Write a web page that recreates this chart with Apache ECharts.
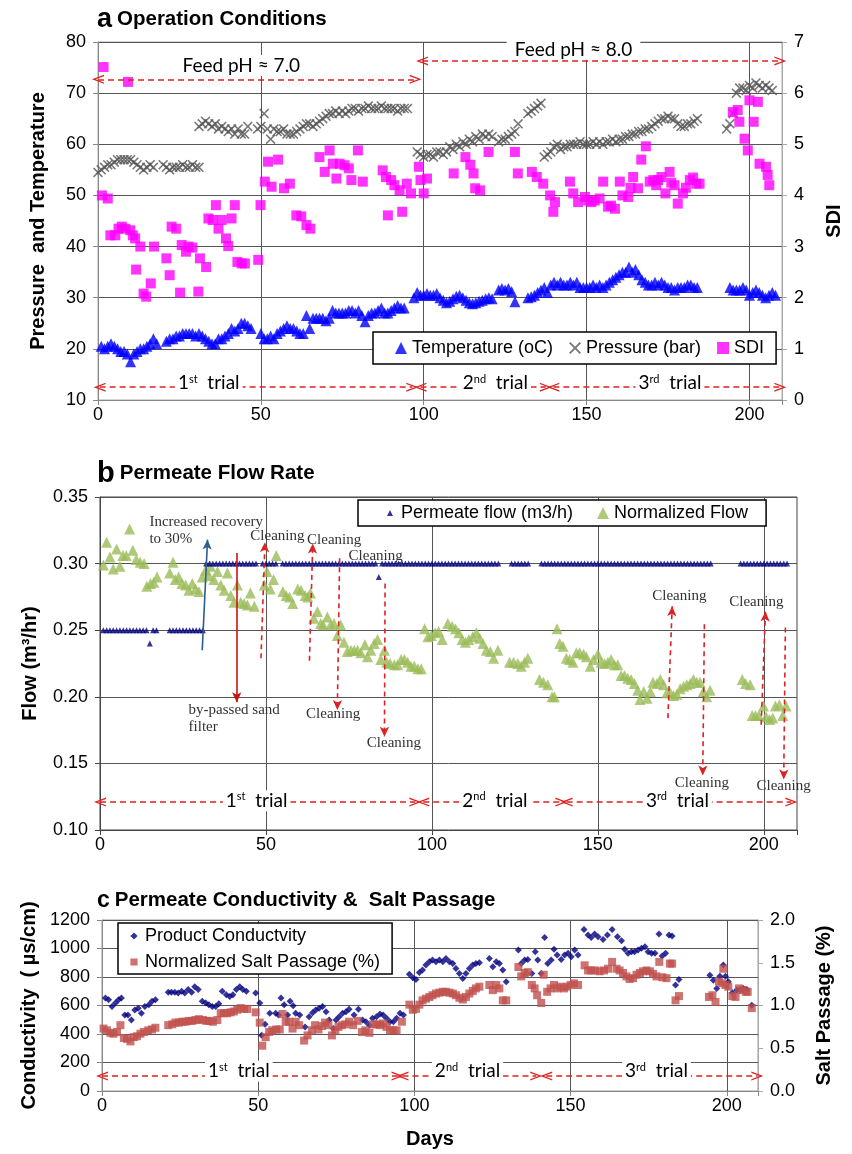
<!DOCTYPE html>
<html>
<head>
<meta charset="utf-8">
<script src="https://cdn.jsdelivr.net/npm/echarts@6/dist/echarts.min.js"></script>
<style>
  html, body { margin: 0; padding: 0; background: #fff; }
  #chart { width: 852px; height: 1154px; }
</style>
</head>
<body>
<div id="chart"></div>
<script>
// ---- data: [day, value] ----
var dayTicks = [0, 50, 100, 150, 200];

var tempData = [[1,20.5],[2,20],[3,20.5],[4,21],[5,20.5],[6,20],[7,19.5],[8,19.5],[9,19],[10,17.5],[11,19],[12,19.5],[13,20],[14,20],[15,20.5],[16,21],[17,22],[18,21],
  [21,21.5],[22,22],[23,22],[24,22.5],[25,22.5],[26,23],[27,23],[28,23],[29,23],[30,22.5],[31,23],[32,22.5],[33,22],[34,21.5],[35,21],[36,21],[37,22],[38,22],[39,22.5],[40,23],[41,24],[42,23.5],[43,24],[44,25],[45,25],[46,24.5],[47,24],
  [50,23],[51,22],[52,22],[53,22.5],[54,22],[55,23],[56,23.5],[57,24],[58,24.5],[59,24],[60,24],[61,23.5],[62,23],[63,23],[64,26.5],[65,24],[66,26],[67,26],[68,26],[69,26],[70,25.5],[71,26],[72,27.5],[73,27],[74,27],[75,27],[76,27],[77,27.5],[78,27.5],[79,27],[80,27.5],[81,26.5],[82,25.3],[83,26.5],[84,27],[85,27],[86,27.5],[87,28],[88,27],[89,27],[90,27.5],[91,28],[92,28.5],[93,28],[94,28],[97,30],[98,31],[99,30.5],
  [100,30.5],[101,30.8],[102,30.5],[103,30.5],[104,30.8],[105,30],[106,29.5],[107,29],[108,29.3],[109,29.8],[110,30.3],[111,30.5],[112,30],[113,29.5],[114,29],[115,28.8],[116,29],[117,29.3],[118,29.5],[119,29.8],[120,30],[121,29.8],
  [123,31.5],[124,31.8],[125,31.5],[126,31.8],[127,31.2],[128,29.2],
  [132,30],[133,30.2],[134,30.5],[135,31],[136,31.5],[137,32],[138,31],[139,32.5],[140,33],[141,32.5],[142,33],[143,32.5],[144,32.5],[145,33],[146,32.5],[147,33],[148,32],[149,32],[150,32],[151,32],[152,32.5],[153,32],[154,32.5],[155,32],[156,32.5],[157,33],[158,33.5],[159,34],[160,34.5],[161,35],[162,35],[163,36],[164,35],[165,35.5],[166,34.5],[167,33.5],[168,33],[169,32.5],[170,32.5],[171,33],[172,32.5],[173,33],[174,32.5],[175,32],[176,32],[177,31.5],[178,32],[179,32],[180,32],[181,32.5],[182,32.5],[183,32],[184,32],
  [194,32],[195,31.5],[196,31.5],[197,31.5],[198,32],[199,31.5],[200,30.5],[201,31],[202,31.5],[203,31],[204,30.5],[205,30],[206,30.5],[207,31],[208,30.5]];

var pressureData = [[0,54.5],[1,55],[2,55.5],[3,56],[4,56],[5,56.5],[6,57],[7,57],[8,57],[9,57],[10,57],[11,56.5],[12,56],[13,55.5],[14,55],[15,55.5],[16,56],[17,55.5],
  [20,56],[21,55.5],[22,55],[23,55.5],[24,55.5],[25,55.5],[26,56],[27,55.5],[28,55.5],[29,56],[30,55.5],[31,55.5],
  [31,63.5],[32,64],[33,64.5],[34,64],[35,63.5],[36,64],[37,63],[38,63.5],[39,63],[40,62.5],[41,63],[42,62],[43,63],[44,62],[45,62],[46,63.5],
  [49,63],[50,63.5],[51,66],[52,63],[53,61],[54,63],[55,62.5],[56,62.5],[57,63],[58,62],[59,62],[60,62],[61,62.5],[62,63],[63,63.5],[64,64],[65,64],[66,63.5],[67,64],[68,64.5],[69,65],[70,65.5],[71,66],[72,66],[73,66.5],[74,66],[75,66.5],[76,66],[77,66.5],[78,67],[79,67],[80,66.5],[81,67],[82,67],[83,67.5],[84,67],[85,67],[86,67],[87,67.5],[88,67],[89,67],[90,67],[91,67],[92,66.5],[93,67],[94,67],[95,67],
  [98,58.5],[99,58],[100,57.5],[101,58],[102,58],[103,57.5],[104,58.5],[105,58.5],[106,58],[107,58.5],[108,59.5],[109,59],[110,60],[111,59.5],[112,60.5],[113,60],[114,61],[115,60.5],[116,61.5],[117,61],[118,62],[119,61.5],[120,62],[121,61.5],
  [123,60.5],[124,61],[125,61],[126,61.5],[127,62],[128,62.5],[129,64],
  [132,66],[133,66.5],[134,67],[135,67.5],[136,68],
  [137,57.5],[138,58],[139,58.5],[140,59.5],[141,60],[142,59],[143,59.5],[144,59.5],[145,60],[146,60],[147,60],[148,60.5],[149,60],[150,60],[151,60],[152,60.5],[153,60],[154,60.5],[155,60],[156,60.5],[157,60.5],[158,61],[159,60.5],[160,61],[161,61],[162,61.5],[163,61.5],[164,62],[165,62],[166,62.5],[167,62.5],[168,63],[169,63],[170,63.5],[171,64],[172,64.5],[173,65],[174,65],[175,65.5],[176,65],[177,65],[178,64],[179,63.5],[180,63.5],[181,64],[182,64],[183,64.5],[184,65],
  [193,63],[194,64],[195,66],[196,70],[197,71],[198,71],[199,70.5],[200,71.5],[201,71],[202,72],[203,71.5],[204,71],[205,71.5],[206,71],[207,70.5]];

var sdiData = [[1.7,6.51],[9.2,6.22],[1.2,4.0],[3,3.94],[3.8,3.22],[5.3,3.22],[6.3,3.35],[7.3,3.39],[8.4,3.35],[9.9,3.32],[10.7,3.22],[11.4,3.16],[13,3.0],[11.7,2.55],[14,2.08],[14.8,2.02],[16.2,2.28],[17.2,3.0],[21,2.77],[22,2.44],[22.6,3.39],[24,3.35],[25.2,2.1],[25.7,3.03],[27,2.9],[27.8,3.0],[29,2.98],[30.8,2.12],[31.3,2.77],[33.2,2.6],[33.9,3.55],[35.2,3.52],[36.2,3.81],[37,3.35],[38,3.52],[39.3,3.16],[40,3.01],[41,3.55],[42,3.81],[42.8,2.7],[44.1,2.67],[45.1,2.67],[49.2,2.74],[49.9,3.81],[51.2,4.27],[52.2,4.66],[53.3,4.17],[55.3,4.7],[57.1,4.14],[58.9,4.23],[60.9,3.61],[62.4,3.59],[64,3.42],[65.2,3.35],[68,4.75],[69.6,4.46],[71.1,4.88],[73.2,4.33],[72.1,4.62],[74.2,4.62],[75.7,4.59],[77,4.53],[77.8,4.3],[79.8,4.88],[81.3,4.27],[87.4,4.49],[88.4,4.36],[89,3.61],[90,4.3],[91,4.2],[92.6,4.1],[93.4,3.68],[94.8,4.23],[96.1,4.04],
  [98.5,4.56],[99,4.3],[100,4.04],[101,4.33],[109.2,4.43],[112.8,4.75],[114.3,4.6],[115.3,4.43],[115.8,4.14],[117.3,4.1],[119.9,4.85],[128,4.85],[128.9,4.43],[133.2,4.46],[134.7,4.36],[136.7,4.23],[138.8,4.0],[140.3,3.87],[139.8,3.68],[144.9,4.27],[145.9,4.04],[147.4,3.87],[149.5,3.97],[150.5,3.9],[151.5,3.87],[152.5,3.9],[154,3.94],[155.1,4.27],[156.6,3.78],[157.5,3.8],[158.7,3.74],[160.2,4.27],[161,4.0],[162.8,3.97],[163.5,4.15],[164.3,4.36],[165.8,4.14],[166.8,4.7],[168.2,4.96],[169.4,4.27],[170.5,4.3],[171.4,4.2],[172,4.3],[173,4.36],[174.2,4.04],[175.5,4.46],[176,4.25],[177,4.2],[178,3.84],[179.6,4.04],[180.5,4.15],[181.7,4.3],[182.7,4.35],[183.7,4.23],[184.7,4.23],
  [194.9,5.63],[196.4,5.67],[196.9,5.44],[198.5,5.11],[199.5,4.88],[200,5.86],[201.3,5.44],[202.6,5.83],[203.1,4.62],[205.1,4.56],[205.6,4.4],[206.1,4.2]];

var permFlowData = [[1,0.25],[2,0.25],[3,0.25],[4,0.25],[5,0.25],[6,0.25],[7,0.25],[8,0.25],[9,0.25],[10,0.25],[11,0.25],[12,0.25],[13,0.25],[14,0.25],[15,0.24],[16,0.25],[17,0.25],
  [21,0.25],[22,0.25],[23,0.25],[24,0.25],[25,0.25],[26,0.25],[27,0.25],[28,0.25],[29,0.25],[30,0.25],[31,0.25],
  [32,0.30],[33,0.30],[34,0.30],[35,0.30],[36,0.30],[37,0.30],[38,0.30],[39,0.30],[40,0.30],[41,0.30],[42,0.30],[43,0.30],[44,0.30],[45,0.30],[46,0.30],[47,0.30],
  [49,0.30],[50,0.30],[51,0.30],[52,0.30],[53,0.30],
  [55,0.30],[56,0.30],[57,0.30],[58,0.30],[59,0.30],[60,0.30],[61,0.30],[62,0.30],[63,0.30],[64,0.30],[65,0.30],[66,0.30],[67,0.30],[68,0.30],[69,0.30],[70,0.30],[71,0.30],[72,0.30],[73,0.30],[74,0.30],[75,0.30],[76,0.30],[77,0.30],[78,0.30],[79,0.30],[80,0.30],[81,0.30],[82,0.30],[83,0.30],[84,0.29],[85,0.30],[86,0.30],[87,0.30],[88,0.30],[89,0.30],[90,0.30],[91,0.30],[92,0.30],[93,0.30],[94,0.30],[95,0.30],[96,0.30],[97,0.30],
  [98,0.30],[99,0.30],[100,0.30],[101,0.30],[102,0.30],[103,0.30],[104,0.30],[105,0.30],[106,0.30],[107,0.30],[108,0.30],[109,0.30],[110,0.30],[111,0.30],[112,0.30],[113,0.30],[114,0.30],[115,0.30],[116,0.30],[117,0.30],[118,0.30],[119,0.30],[120,0.30],
  [124,0.30],[125,0.30],[126,0.30],[127,0.30],[128,0.30],[129,0.30],
  [133,0.30],[134,0.30],[135,0.30],[136,0.30],[137,0.30],[138,0.30],[139,0.30],[140,0.30],[141,0.30],[142,0.30],[143,0.30],[144,0.30],[145,0.30],[146,0.30],[147,0.30],[148,0.30],[149,0.30],[150,0.30],[151,0.30],[152,0.30],
  [153,0.30],[154,0.30],[155,0.30],[156,0.30],[157,0.30],[158,0.30],[159,0.30],[160,0.30],[161,0.30],[162,0.30],[163,0.30],[164,0.30],[165,0.30],[166,0.30],[167,0.30],[168,0.30],[169,0.30],[170,0.30],[171,0.30],[172,0.30],[173,0.30],[174,0.30],[175,0.30],[176,0.30],[177,0.30],[178,0.30],[179,0.30],[180,0.30],[181,0.30],[182,0.30],[183,0.30],[184,0.30],
  [193,0.30],[194,0.30],[195,0.30],[196,0.30],[197,0.30],[198,0.30],[199,0.30],[200,0.30],[201,0.30],[202,0.30],[203,0.30],[204,0.30],[205,0.30],[206,0.30],[207,0.30]];

var normFlowData = [[1,0.299],[2,0.316],[3,0.305],[4,0.296],[5,0.311],[6,0.298],[6.9,0.306],[7.9,0.306],[8.9,0.326],[9.9,0.31],[10.9,0.303],[12.1,0.301],[13.3,0.3],[14.1,0.283],[15.2,0.285],[16.2,0.286],[17.2,0.29],
  [21,0.293],[22,0.301],[22.7,0.288],[23.7,0.29],[24.7,0.285],[25.8,0.284],[26.8,0.28],[27.8,0.285],[28.8,0.281],[29.8,0.279],[30.8,0.29],[31.8,0.295],[32.8,0.291],[33.3,0.298],[34.3,0.288],[35.4,0.294],[36.4,0.284],[37.4,0.28],[38.4,0.293],[39.4,0.276],[40.4,0.271],[41.4,0.284],[42.4,0.271],[43.4,0.27],[44.4,0.269],[45.3,0.278],[46.5,0.268],
  [49.5,0.284],[50.3,0.294],[51.3,0.281],[52.3,0.288],[53.1,0.306],[55.1,0.279],[56.1,0.276],[57.1,0.275],[58.1,0.27],[59.6,0.281],[60.6,0.28],[61.8,0.276],[62.6,0.275],[63.4,0.278],[64.4,0.259],[65.5,0.264],[66.5,0.255],[67.2,0.254],[68.5,0.26],[69.5,0.254],[70.5,0.255],[71.5,0.246],[72.5,0.254],[73.5,0.241],[74.5,0.234],[75.6,0.235],[76.6,0.235],[77.6,0.235],[78.6,0.233],[79.8,0.239],[80.6,0.23],[81.6,0.235],[82.6,0.24],[83.6,0.243],[84.6,0.228],[85.7,0.235],[86.4,0.226],[87.4,0.225],[88.7,0.224],[89.7,0.224],[90.7,0.228],[91.7,0.228],[92.7,0.226],[93.7,0.223],[94.7,0.223],[95.8,0.221],[96.8,0.221],
  [97.8,0.251],[98.8,0.245],[99.8,0.246],[101,0.248],[102,0.249],[103.1,0.243],[104.8,0.255],[106.1,0.253],[107.1,0.251],[108.1,0.248],[109.1,0.243],[110.1,0.241],[111.1,0.243],[112.3,0.245],[113.4,0.248],[114.4,0.244],[115.4,0.24],[116.4,0.235],[117.6,0.234],[118.6,0.229],[119.9,0.235],
  [123.4,0.226],[124.6,0.226],[125.9,0.225],[126.9,0.223],[127.9,0.226],[128.9,0.229],[132.4,0.213],[133.6,0.211],[134.9,0.209],[136.2,0.2],[136.9,0.2],
  [137.7,0.251],[138.5,0.24],[139.5,0.238],[140.5,0.229],[141.5,0.228],[142.5,0.226],[143.5,0.233],[144.5,0.233],[145.7,0.232],[146.5,0.23],[147.7,0.223],[148.7,0.228],[150,0.232],[151,0.226],[152,0.225],[153,0.226],[154,0.228],[155,0.224],[156,0.224],[157,0.216],[158,0.216],[159,0.214],[160,0.213],[161,0.21],[162,0.205],[162.7,0.198],[163.8,0.204],[164.8,0.199],[165.8,0.204],[166.6,0.211],[167.8,0.21],[168.8,0.213],[169.8,0.209],[170.8,0.203],[171.8,0.203],[172.8,0.201],[173.8,0.202],[174.8,0.206],[175.8,0.208],[176.8,0.209],[177.8,0.21],[178.8,0.213],[179.8,0.211],[180.8,0.211],[181.8,0.204],[182.8,0.2],[183.8,0.205],
  [193.5,0.213],[194.5,0.21],[195.9,0.209],[196.5,0.186],[197.5,0.186],[198.5,0.186],[199.9,0.193],[200.7,0.185],[201.7,0.183],[202.7,0.184],[203.5,0.193],[204.7,0.194],[205.7,0.186],[206.7,0.193]];

var condData = [[1.1,652],[2.1,640],[3.2,593],[4.3,617],[5.3,640],[6.2,652],[7.3,533],[8.3,533],[9.4,498],[10.5,569],[11.6,581],[12.6,545],[13.7,593],[15,605],[16,629],[17.1,640],
  [21.2,693],[22.2,693],[23.3,693],[24.4,688],[25.5,700],[26.5,688],[27.6,712],[28.7,693],[29.7,731],[30.8,712],[32.1,629],[33.2,617],[34.2,605],[35.3,593],[36.4,593],[37.4,612],[38.5,700],[39.8,676],[40.9,664],[41.9,676],[43,712],[44.1,731],[45.1,712],[46.2,700],
  [49.2,688],[50.5,617],[51.1,391],[52.2,469],[53.7,545],[55.6,545],[56.5,533],[57.3,652],[58.3,605],[59.4,533],[60.2,629],[61.2,598],[62,545],[63.3,533],[65,450],[66.3,521],[67.4,550],[68.4,569],[69.5,581],[70.6,593],[71.7,557],[72.7,498],[74,438],[74.9,498],[75.9,521],[77,545],[78.1,557],[79.1,574],[80.7,533],[82.1,574],[83.4,498],[84.5,486],[85.6,462],[86.6,510],[87.9,521],[89,540],[90,533],[91.1,510],[92.2,486],[93.3,486],[94.3,510],[95.4,545],[96.5,533],
  [98.4,819],[99.5,795],[100.5,783],[101.6,831],[102.6,849],[103.7,884],[104.8,907],[105.8,919],[106.9,907],[108,919],[109.1,907],[110.1,930],[111.2,907],[112.3,895],[113.3,860],[114.4,825],[115.5,790],[116.5,825],[117.6,860],[118.7,884],[119.7,895],[120.8,900],
  [124,930],[125.1,872],[126.2,907],[127.2,895],[128.3,849],[129.4,767],
  [133.3,989],[134.2,895],[135.3,919],[136.3,923],[137.6,825],[138.7,977],[139.5,919],[140.6,825],[141.7,1078],[142.7,895],[143.8,919],[144.7,994],[145.7,954],[147,923],[148.1,954],[149.2,966],[150.2,942],[151.3,989],[152.4,954],
  [154.3,1134],[155.6,1095],[156.6,1078],[157.7,1102],[158.8,1083],[160.4,1064],[161.8,1095],[163.3,1134],[165,1083],[166.3,1055],[167.3,994],[168.4,966],[169.5,977],[170.5,977],[171.6,989],[172.7,1001],[173.8,1013],[174.8,977],[175.9,966],[177,966],[178.3,1102],[179.3,947],[180.4,966],[181.5,1095],[182.5,1088],[183.6,743],[184.7,783],
  [194.6,813],[195.7,778],[196.8,720],[197.8,806],[198.9,884],[199.6,806],[200.5,767],[201.8,689],[203.2,708],[204.2,708],[205.3,720],[206.4,713],[208,602]];

var saltData = [[0.5,0.73],[1.6,0.71],[2.7,0.68],[3.7,0.67],[4.8,0.69],[5.9,0.77],[7,0.62],[8,0.61],[9.1,0.58],[10.2,0.63],[11.2,0.64],[12.3,0.67],[13.4,0.69],[14.8,0.71],[16,0.72],[17.1,0.74],
  [21.2,0.77],[22.5,0.78],[23.5,0.8],[24.6,0.8],[25.7,0.81],[26.7,0.81],[27.8,0.82],[28.9,0.82],[29.9,0.83],[31,0.84],[32.3,0.83],[33.4,0.82],[34.4,0.82],[35.5,0.81],[36.9,0.83],[38,0.91],[39,0.91],[40.1,0.91],[41.2,0.92],[42.2,0.93],[43.3,0.95],[44.4,0.97],[45.5,0.96],[46.5,0.96],
  [49.2,0.92],[50.5,0.8],[51.3,0.53],[52.4,0.63],[53.5,0.69],[54.5,0.71],[55.8,0.72],[56.9,0.72],[57.8,0.9],[58.8,0.81],[59.9,0.81],[61,0.73],[62,0.81],[63.1,0.77],[64.7,0.59],[65.8,0.65],[67.2,0.71],[68.2,0.77],[69.3,0.72],[70.4,0.76],[71.4,0.8],[72.5,0.77],[73.6,0.65],[74.7,0.71],[75.7,0.75],[76.8,0.77],[77.9,0.78],[79.1,0.81],[80.4,0.77],[81.8,0.82],[83.2,0.69],[84.3,0.71],[85.6,0.68],[86.8,0.78],[87.9,0.78],[89,0.77],[90,0.79],[91.1,0.75],[92.2,0.71],[93.3,0.71],[94.3,0.71],[96,0.81],
  [98.4,1.01],[99.5,0.95],[100.5,0.96],[101.6,1.01],[102.6,1.06],[103.7,1.08],[104.8,1.1],[105.8,1.12],[106.9,1.14],[108,1.15],[109.1,1.16],[110.1,1.16],[111.2,1.15],[112.3,1.14],[113.3,1.12],[114.4,1.09],[115.5,1.07],[116.5,1.1],[117.6,1.14],[118.7,1.17],[119.7,1.2],[120.8,1.22],
  [124,1.24],[125.1,1.18],[126.2,1.24],[127.2,1.2],[128.3,1.06],[129.4,1.06],
  [133.3,1.45],[134.2,1.34],[135.3,1.38],[136.3,1.39],[137.6,1.24],[138.5,1.2],[139.3,1.12],[140.6,1.03],[141.4,1.36],[142.5,1.16],[143.6,1.2],[144.7,1.24],[145.7,1.2],[146.8,1.22],[147.9,1.2],[148.9,1.22],[150,1.24],[151.1,1.26],[152.4,1.24],
  [154.5,1.47],[155.6,1.41],[156.6,1.41],[157.9,1.41],[159.3,1.4],[160.7,1.41],[162,1.43],[163.3,1.51],[164.7,1.43],[165.7,1.41],[166.8,1.38],[167.9,1.34],[168.9,1.31],[170,1.32],[171.1,1.36],[172.2,1.38],[173.2,1.4],[174.3,1.41],[175.4,1.4],[176.4,1.37],[177.5,1.34],[178.4,1.51],[179.4,1.33],[180.7,1.32],[181.8,1.49],[182.5,1.49],[183.6,1.06],[184.7,1.11],
  [194.3,1.1],[195.4,1.12],[196.4,1.04],[197.5,1.28],[198.4,1.26],[198.9,1.43],[199.6,1.24],[200.5,1.22],[201.8,1.11],[202.8,1.1],[203.9,1.2],[205,1.18],[206.1,1.16],[206.7,1.16],[208,0.97]];

// ---- styling helpers ----
var SANS = 'Liberation Sans, Arial, sans-serif';
var SERIF = 'Liberation Serif, Times New Roman, serif';
var CAL = 'Lato, Open Sans, sans-serif';
var RED = '#dd2222';
var chev = 'path://M0,10 L5,0 L10,10 L8.5,10 L5,3 L1.5,10 Z';
var cross = 'path://M0,1.1 L1.1,0 L5,3.9 L8.9,0 L10,1.1 L6.1,5 L10,8.9 L8.9,10 L5,6.1 L1.1,10 L0,8.9 L3.9,5 Z';
var smallTri = 'path://M5,2.5 L7.5,7.5 L2.5,7.5 Z M0,0 L0.01,0 L0,0.01 Z M10,10 L9.99,10 L10,9.99 Z';
var smallDia = 'path://M5,2 L8,5 L5,8 L2,5 Z M0,0 L0.01,0 L0,0.01 Z M10,10 L9.99,10 L10,9.99 Z';
var smallSq = 'path://M2,2 L8,2 L8,8 L2,8 Z M0,0 L0.01,0 L0,0.01 Z M10,10 L9.99,10 L10,9.99 Z';

function dayLabel(v) { return dayTicks.indexOf(v) >= 0 ? String(v) : ''; }

function trialLine(x1, x2, y) {
  return [{ coord: [x1, y], symbol: chev }, { coord: [x2, y], symbol: chev }];
}
function arrow(x1, y1, x2, y2, color, dashed) {
  return [{ coord: [x1, y1], symbol: 'none',
            lineStyle: { color: color, type: dashed ? [5, 4] : 'solid', width: 1.6 } },
          { coord: [x2, y2], symbol: 'arrow', symbolSize: [7, 10] }];
}
var trialRich = {
  s: { fontSize: 11, fontFamily: CAL, verticalAlign: 'top', lineHeight: 12, color: '#000' }
};
function tag(x, y, text, opts) {
  var label = Object.assign({
    show: true, formatter: text, position: 'inside', color: '#000',
    fontFamily: CAL, fontSize: 19, backgroundColor: '#fff', padding: [1, 3],
    rich: trialRich
  }, opts || {});
  return { coord: [x, y], symbolSize: 1, itemStyle: { color: 'rgba(0,0,0,0)' }, label: label };
}
function note(x, y, text) {
  return tag(x, y, text, { position: 'right', distance: 0, fontFamily: SERIF, fontSize: 15,
                           color: '#333', backgroundColor: 'transparent', padding: 0, lineHeight: 17 });
}

function xAx(grid, lineColor) {
  return {
    type: 'value', gridIndex: grid, min: 0, max: 210, interval: 50,
    axisLine: { show: true, lineStyle: { color: lineColor } },
    axisTick: { show: true, length: 5, lineStyle: { color: lineColor } },
    axisLabel: { formatter: dayLabel, fontSize: 18, fontFamily: SANS, color: '#000', margin: 6 },
    splitLine: { show: true, showMinLine: false, showMaxLine: false, lineStyle: { color: '#555' } }
  };
}
function yAx(grid, pos, min, max, step, name, gap, digits, split, lineColor) {
  return {
    type: 'value', gridIndex: grid, position: pos, min: min, max: max, interval: step,
    name: name, nameLocation: 'middle', nameGap: gap, nameRotate: 90,
    nameTextStyle: { fontSize: 20, fontWeight: 'bold', fontFamily: SANS, color: '#000' },
    axisLine: { show: true, lineStyle: { color: lineColor } },
    axisTick: { show: true, length: 5, lineStyle: { color: lineColor } },
    axisLabel: { fontSize: 18, fontFamily: SANS, color: '#000', margin: 12,
                 formatter: function (v) { return v.toFixed(digits); } },
    splitLine: { show: split, showMinLine: false, lineStyle: { color: '#555' } }
  };
}
function legendBox(names, left, top, orient, padding, gap) {
  return {
    data: names, left: left, top: top, orient: orient, padding: padding, itemGap: gap,
    itemWidth: 12, itemHeight: 12, borderColor: '#000', borderWidth: 1.5, backgroundColor: '#fff',
    textStyle: { fontSize: 18, fontFamily: SANS, color: '#000' }, selectedMode: false
  };
}
function titleText(letter, text, top, letterSize) {
  return {
    text: '{l|' + letter + '} {t|' + text + '}', left: 92, top: top,
    textStyle: { rich: {
      l: { fontSize: letterSize, fontWeight: 'bold', fontFamily: SANS, color: '#000' },
      t: { fontSize: 20.5, fontWeight: 'bold', fontFamily: SANS, color: '#000' }
    } }
  };
}

var option = {
  animation: false,
  backgroundColor: '#fff',
  title: [
    titleText('a', 'Operation Conditions', 1, 27),
    titleText('b', 'Permeate Flow Rate', 454, 29),
    titleText('c', 'Permeate Conductivity &  Salt Passage', 884, 23)
  ],
  legend: [
    legendBox([{ name: 'Temperature (oC)' }, { name: 'Pressure (bar)' }, { name: 'SDI' }],
              373, 332, 'horizontal', [7, 12, 7, 22], 16),
    legendBox([{ name: 'Permeate flow (m3/h)', icon: smallTri }, { name: 'Normalized Flow' }],
              358, 500, 'horizontal', [4, 18, 4, 26], 24),
    legendBox([{ name: 'Product Conductvity', icon: smallDia }, { name: 'Normalized Salt Passage (%)', icon: smallSq }],
              118, 923, 'vertical', [4, 12, 3, 10], 8)
  ],
  grid: [
    { left: 98, top: 42, width: 686, height: 358, show: true, borderColor: '#aaa', borderWidth: 1 },
    { left: 100, top: 497, width: 697, height: 333, show: true, borderColor: '#444', borderWidth: 1 },
    { left: 102, top: 920, width: 656, height: 171, show: true, borderColor: '#999', borderWidth: 1 }
  ],
  xAxis: [
    xAx(0, '#888'),
    xAx(1, '#444'),
    Object.assign(xAx(2, '#888'), {
      name: 'Days', nameLocation: 'middle', nameGap: 38,
      nameTextStyle: { fontSize: 20, fontWeight: 'bold', fontFamily: SANS, color: '#000' }
    })
  ],
  yAxis: [
    yAx(0, 'left', 10, 80, 10, 'Pressure  and Temperature', 50, 0, true, '#888'),
    yAx(0, 'right', 0, 7, 1, 'SDI', 42, 0, false, '#aaa'),
    yAx(1, 'left', 0.1, 0.35, 0.05, 'Flow (m³/hr)', 60, 2, true, '#444'),
    yAx(2, 'left', 0, 1200, 200, 'Conductivity  ( µs/cm)', 62, 0, true, '#888'),
    yAx(2, 'right', 0, 2, 0.5, 'Salt Passage (%)', 56, 1, false, '#aaa')
  ],
  series: [
    {
      name: 'Temperature (oC)', type: 'scatter', xAxisIndex: 0, yAxisIndex: 0,
      data: tempData, symbol: 'triangle', symbolSize: 11, itemStyle: { color: '#0000ff' },
      markLine: {
        silent: true, symbolSize: [9, 12], label: { show: false },
        lineStyle: { color: RED, type: [6, 4], width: 1.6 },
        data: [
          trialLine(0.5, 96.5, 12.5), trialLine(99, 137.5, 12.5), trialLine(139.8, 209.5, 12.5),
          trialLine(0, 97.5, 72.7), trialLine(99.5, 209.5, 76.3)
        ]
      },
      markPoint: {
        silent: true,
        data: [
          tag(34, 13.2, '1{s|st}  trial'), tag(122, 13.2, '2{s|nd}  trial'), tag(175.6, 13.2, '3{s|rd}  trial'),
          tag(44, 75.3, 'Feed pH ≈ 7.0'), tag(146, 78.3, 'Feed pH ≈ 8.0', { padding: [0, 8] })
        ]
      }
    },
    {
      name: 'Pressure (bar)', type: 'scatter', xAxisIndex: 0, yAxisIndex: 0,
      data: pressureData, symbol: cross, symbolSize: 10, itemStyle: { color: '#555' }
    },
    {
      name: 'SDI', type: 'scatter', xAxisIndex: 0, yAxisIndex: 1,
      data: sdiData, symbol: 'rect', symbolSize: 10, itemStyle: { color: '#ff00ff' }
    },
    {
      name: 'Permeate flow (m3/h)', type: 'scatter', xAxisIndex: 1, yAxisIndex: 2,
      data: permFlowData, symbol: 'triangle', symbolSize: 6, itemStyle: { color: '#000080' }, z: 3
    },
    {
      name: 'Normalized Flow', type: 'scatter', xAxisIndex: 1, yAxisIndex: 2,
      data: normFlowData, symbol: 'triangle', symbolSize: 11, itemStyle: { color: '#9bbb59' },
      markLine: {
        silent: true, symbolSize: [9, 12], label: { show: false },
        lineStyle: { color: RED, type: [6, 4], width: 1.6 },
        data: [
          trialLine(0, 95, 0.121), trialLine(97.4, 139, 0.121), trialLine(140.6, 208.3, 0.121),
          arrow(30.8, 0.235, 32.4, 0.318, '#2e5f8f', false),
          arrow(41.2, 0.308, 41.2, 0.196, '#cc1111', false),
          arrow(48.5, 0.229, 49.7, 0.316, RED, true),
          arrow(63.1, 0.227, 64.1, 0.315, RED, true),
          arrow(72.2, 0.304, 71.5, 0.19, RED, true),
          arrow(85.9, 0.285, 85.7, 0.17, RED, true),
          arrow(171.1, 0.184, 172.4, 0.268, RED, true),
          arrow(182.1, 0.2545, 181.6, 0.141, RED, true),
          arrow(199.2, 0.179, 200.5, 0.264, RED, true),
          arrow(206.5, 0.252, 206, 0.138, RED, true)
        ]
      },
      markPoint: {
        silent: true,
        data: [
          tag(47.2, 0.1215, '1{s|st}  trial'), tag(119, 0.1215, '2{s|nd}  trial'), tag(174, 0.1215, '3{s|rd}  trial'),
          note(14.8, 0.3245, 'Increased recovery\nto 30%'),
          note(26.6, 0.1836, 'by-passed sand\nfilter'),
          note(45.2, 0.32, 'Cleaning'), note(62.3, 0.3175, 'Cleaning'), note(74.8, 0.3057, 'Cleaning'),
          note(62, 0.187, 'Cleaning'), note(80.3, 0.165, 'Cleaning'),
          note(166.3, 0.275, 'Cleaning'), note(173.1, 0.135, 'Cleaning'),
          note(189.5, 0.2705, 'Cleaning'), note(197.7, 0.1325, 'Cleaning')
        ]
      }
    },
    {
      name: 'Product Conductvity', type: 'scatter', xAxisIndex: 2, yAxisIndex: 3,
      data: condData, symbol: 'diamond', symbolSize: 7, itemStyle: { color: '#000080' },
      markLine: {
        silent: true, symbolSize: [9, 12], label: { show: false },
        lineStyle: { color: RED, type: [6, 4], width: 1.6 },
        data: [trialLine(0, 94.6, 105), trialLine(96.2, 139, 105), trialLine(142.2, 209.8, 105)]
      },
      markPoint: {
        silent: true,
        data: [tag(43.8, 135, '1{s|st}  trial'), tag(117, 135, '2{s|nd}  trial'), tag(177.5, 135, '3{s|rd}  trial')]
      }
    },
    {
      name: 'Normalized Salt Passage (%)', type: 'scatter', xAxisIndex: 2, yAxisIndex: 4,
      data: saltData, symbol: 'rect', symbolSize: 8, itemStyle: { color: '#c0504d' }
    }
  ]
};

var chart = echarts.init(document.getElementById('chart'), null, { renderer: 'canvas' });
chart.setOption(option);
</script>
</body>
</html>
